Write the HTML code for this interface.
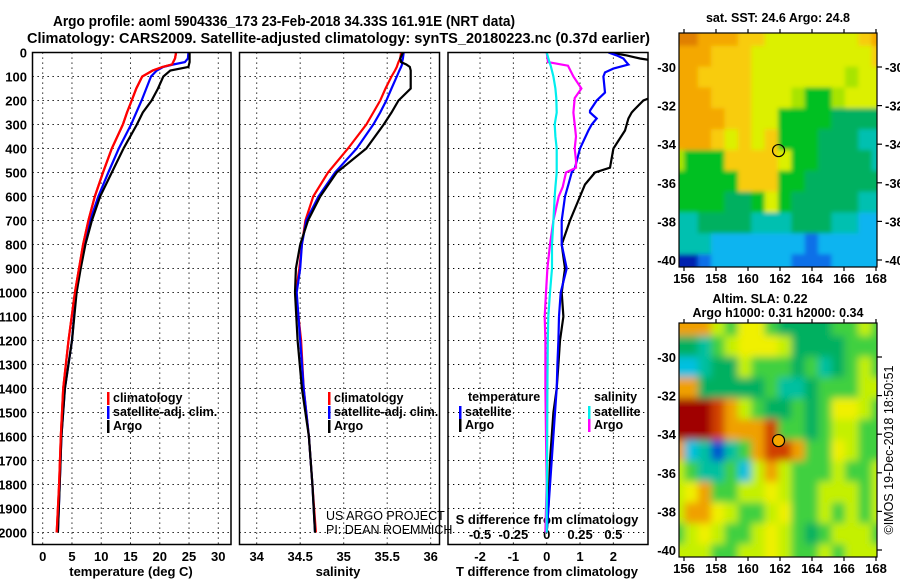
<!DOCTYPE html>
<html><head><meta charset="utf-8">
<style>
html,body{margin:0;padding:0;background:#fff;}
body{width:900px;height:580px;overflow:hidden;font-family:"Liberation Sans",Arial,sans-serif;}
svg text{font-family:"Liberation Sans",Arial,sans-serif;font-weight:bold;fill:#000;}
svg text.thin{font-weight:normal;}
</style></head>
<body>
<svg id="fig" width="900" height="580" viewBox="0 0 900 580" xmlns="http://www.w3.org/2000/svg">
<defs>
<clipPath id="c1"><rect x="32.5" y="52.5" width="198.5" height="492"/></clipPath>
<clipPath id="c2"><rect x="239.5" y="52.5" width="200" height="492"/></clipPath>
<clipPath id="c3"><rect x="448" y="52.5" width="200" height="492"/></clipPath>
<clipPath id="cm1"><rect x="679" y="33" width="198" height="234"/></clipPath>
<clipPath id="cm2"><rect x="679" y="323" width="198" height="234"/></clipPath>
<filter id="blur2" x="-5%" y="-5%" width="110%" height="110%"><feGaussianBlur stdDeviation="4"/></filter>
<filter id="blur1"><feGaussianBlur stdDeviation="2"/></filter>
</defs>
<text x="53" y="26" font-size="14.5" textLength="462" lengthAdjust="spacingAndGlyphs">Argo profile: aoml 5904336_173 23-Feb-2018 34.33S 161.91E (NRT data)</text>
<text x="27" y="43" font-size="14.5" textLength="623" lengthAdjust="spacingAndGlyphs">Climatology: CARS2009. Satellite-adjusted climatology: synTS_20180223.nc (0.37d earlier)</text>
<g id="layer"></g>
</svg>
<script>
// ---------- data ----------
var depths = [0,25,40,50,60,75,100,150,200,250,300,400,500,600,700,800,900,1000,1200,1400,1600,1800,2000];
var tempClim = [22.8,22.6,22.3,22.1,20.5,18.8,17.0,16.0,15.2,14.4,13.7,11.8,10.3,8.9,7.8,6.9,6.2,5.5,4.4,3.5,3.1,2.8,2.4];
var tempSat  = [24.9,24.8,24.3,22.3,20.6,19.5,18.5,17.7,16.9,16.0,15.1,13.0,11.2,9.5,8.1,7.2,6.4,5.7,5.0,3.8,3.2,2.9,2.6];
var tempArgo = [25.1,25.1,25.1,25.0,24.9,21.8,20.6,19.7,18.6,17.1,16.1,13.8,11.8,9.8,8.4,7.3,6.5,5.8,5.0,3.8,3.2,2.9,2.6];
var salClim = [35.66,35.65,35.63,35.62,35.61,35.59,35.55,35.48,35.42,35.34,35.26,35.05,34.82,34.65,34.56,34.52,34.49,34.45,34.51,34.54,34.60,34.64,34.68];
var salSat  = [35.69,35.68,35.67,35.67,35.66,35.64,35.61,35.55,35.49,35.42,35.34,35.15,34.90,34.71,34.57,34.52,34.50,34.46,34.50,34.54,34.60,34.64,34.67];
var salArgo = [35.68,35.65,35.66,35.72,35.76,35.77,35.77,35.77,35.63,35.55,35.46,35.26,34.92,34.73,34.59,34.50,34.45,34.44,34.47,34.52,34.60,34.64,34.67];
var dTdepths = [0,12,25,42,50,67,83,100,167,200,242,250,275,300,325,400,480,500,550,600,700,800,900,1000,1100,1200,1300,1400,1500,1700,1900,2000];
var dTArgo = [1.9,2.4,2.8,3.6,3.6,3.6,3.6,3.6,3.5,2.9,2.6,2.55,2.45,2.4,2.35,2.0,1.9,1.45,1.15,1.0,0.7,0.45,0.55,0.45,0.5,0.4,0.35,0.3,0.2,0.1,0.05,0.0];
var dTSat  = [1.85,2.1,2.3,2.4,2.45,2.0,1.75,1.7,1.75,1.5,1.3,1.3,1.5,1.35,1.25,1.0,0.85,0.75,0.65,0.55,0.45,0.45,0.6,0.42,0.37,0.35,0.32,0.3,0.25,0.15,0.05,0.0];
var dSdepths = [0,40,55,100,150,190,250,300,350,400,450,480,500,560,600,700,800,900,1000,1100,1200,1400,1600,1800,1900,2000];
var dSArgo = [0.0,0.01,0.16,0.2,0.26,0.21,0.2,0.21,0.22,0.21,0.22,0.22,0.145,0.12,0.09,0.05,0.025,0.005,-0.005,-0.015,-0.01,-0.01,-0.005,0.0,-0.005,-0.01];
var dSSat  = [0.0,0.02,0.03,0.05,0.065,0.072,0.075,0.06,0.065,0.075,0.075,0.075,0.075,0.065,0.06,0.05,0.04,0.04,0.025,0.012,0.008,0.005,0.004,0.002,0.0,0.0];
var depthTicks = [0,100,200,300,400,500,600,700,800,900,1000,1100,1200,1300,1400,1500,1600,1700,1800,1900,2000];
var tempTicks = [0,5,10,15,20,25,30];
var salTicks = [34,34.5,35,35.5,36];
var salTickLabels = ["34","34.5","35","35.5","36"];
var dTTicks = [-2,-1,0,1,2];
var dSTicks = [-0.5,-0.25,0,0.25,0.5];
var dSTickLabels = ["-0.5","-0.25","0","0.25","0.5"];
var latTicks = [-30,-32,-34,-36,-38,-40];
var lonTicks = [156,158,160,162,164,166,168];
// map color grids (rows N->S, cols W->E)
var sstGrid = [
"DDOOOYYyyyyyyyYO",
"OOOYYYyyyyyyyyyY",
"OOYYYYyyyyyyylyy",
"OOOYYYyyylGGlyyy",
"OOOOYYyyGGGGgggg",
"OOOYyYyYGGGgggcc",
"lGGGYYYYyGGggggc",
"GGGGGYYYGGgggggg",
"GGGGggGyGgggggcc",
"ccggggcccgggccCC",
"cccCCCCCCCBCCCCC",
"NNBCCCCCCBBBCCCC"];
var slaGrid = [
"oooyGYYGggggGGyG",
"ggtGyYYYyggggGGG",
"cctggyGGGgGtgGyG",
"oogggggGttgGGGyy",
"RRRroyGggGgGYYyG",
"RRRrooorGGgGyyGG",
"octbtGorroGGYyGG",
"yGttGcyoyGGGyGGy",
"yYoGGyyYyGGyyyGy",
"yooYyGGyYGGyGyGy",
"GyYyGGyYyGgGyyyG",
"yyyGGyyYyGGyGyyy"];
var sstColors = {D:"#e08000",O:"#f4a800",Y:"#f8cc10",y:"#dcf000",l:"#a8e400",G:"#00c020",g:"#00b060",c:"#00c0b0",C:"#10b4f0",B:"#1070e8",N:"#0020b0"};
var slaColors = {R:"#a00000",r:"#d04000",o:"#f0a000",Y:"#f0f000",y:"#c4f000",G:"#40d040",g:"#00b060",t:"#00c0a0",c:"#00c0e0",b:"#0050d0"};
var argoLon = 161.91, argoLat = -34.33;

// ---------- helpers ----------
var NS="http://www.w3.org/2000/svg";
var layer=document.getElementById('layer');
function mk(tag,attrs,parent){var e=document.createElementNS(NS,tag);for(var k in attrs)e.setAttribute(k,attrs[k]);(parent||layer).appendChild(e);return e;}
function yD(d){return 52.5+0.24*d;}
function xT(t){return 42.7+5.853*t;}
function xS(s){return 256.7+87*(s-34);}
function xdT(v){return 546.7+33.33*v;}
function xdS(v){return 546.7+133.33*v;}
function lon2x(lo){return 684+16*(lo-156);}
function lat2y(la,top){return top+34+19.3*(-30-la);}

function profile(xs,ys,fx,color,clip,name){
  var pts=[];for(var i=0;i<xs.length;i++){pts.push(fx(xs[i]).toFixed(1)+","+yD(ys[i]).toFixed(1));}
  var p=mk('polyline',{points:pts.join(" "),fill:"none",stroke:color,"stroke-width":"2.2","clip-path":"url(#"+clip+")"});
  
  
}
function txt(x,y,s,size,anchor,name,extra){
  var t=mk('text',{x:x,y:y,"font-size":size,"text-anchor":anchor||"start"});
  t.textContent=s;
  
  
  if(extra)for(var k in extra)t.setAttribute(k,extra[k]);
  return t;
}
function dotted(x1,y1,x2,y2){mk('line',{x1:x1,y1:y1,x2:x2,y2:y2,stroke:"#000","stroke-width":"1","stroke-dasharray":"1.3,3.7"});}

// ---------- profile panels ----------
var panels=[{x:32.5,w:198.5},{x:239.5,w:200},{x:448,w:200}];
panels.forEach(function(p,pi){
  depthTicks.forEach(function(d){ if(d>0) dotted(p.x,yD(d),p.x+p.w,yD(d)); });
});
tempTicks.forEach(function(t){ dotted(xT(t),52.5,xT(t),544.5); });
salTicks.forEach(function(s){ dotted(xS(s),52.5,xS(s),544.5); });
dTTicks.forEach(function(v){ dotted(xdT(v),52.5,xdT(v),544.5); });

depthTicks.forEach(function(d){ txt(27,yD(d)+5,String(d),13,"end","depth-tick-label"); });
tempTicks.forEach(function(t){ txt(xT(t),561,String(t),13,"middle","temperature-tick-label"); });
salTicks.forEach(function(s,i){ txt(xS(s),561,salTickLabels[i],13,"middle","salinity-tick-label"); });
dTTicks.forEach(function(v){ txt(xdT(v),561,String(v),13,"middle","t-diff-tick-label"); });
dSTicks.forEach(function(v,i){ txt(xdS(v),539,dSTickLabels[i],13,"middle","s-diff-tick-label"); });
txt(131,576,"temperature (deg C)",13,"middle","temperature-axis-title");
txt(338,576,"salinity",13,"middle","salinity-axis-title");
txt(547,576,"T difference from climatology",13,"middle","t-diff-axis-title");
txt(547,524,"S difference from climatology",13,"middle","s-diff-axis-title");

profile(tempClim,depths,xT,"#ff0000","c1","temperature-climatology-line");
profile(tempSat,depths,xT,"#0000ff","c1","temperature-satellite-line");
profile(tempArgo,depths,xT,"#000000","c1","temperature-argo-line");
profile(tempClim,depths,xT,"#ff0000","c1","temperature-climatology-line-top");
profile(salClim,depths,xS,"#ff0000","c2","salinity-climatology-line");
profile(salSat,depths,xS,"#0000ff","c2","salinity-satellite-line");
profile(salArgo,depths,xS,"#000000","c2","salinity-argo-line");
profile(dTArgo,dTdepths,xdT,"#000000","c3","t-diff-argo-line");
profile(dTSat,dTdepths,xdT,"#0000ff","c3","t-diff-satellite-line");
profile(dSArgo,dSdepths,xdS,"#ff00ff","c3","s-diff-argo-line");
profile(dSSat,dSdepths,xdS,"#00eeee","c3","s-diff-satellite-line");

panels.forEach(function(p,pi){
  var r=mk('rect',{x:p.x,y:52.5,width:p.w,height:492,fill:"none",stroke:"#000","stroke-width":"1.5"});
  
  
});

// legends
function legItem(x,y,color,label,name){
  var m=mk('rect',{x:x,y:y-10,width:2.5,height:13,fill:color});
  
  
  txt(x+6,y,label,12.5,"start",name);
}
legItem(107,402,"#ff0000","climatology","legend-climatology");
legItem(107,416,"#0000ff","satellite-adj. clim.","legend-satellite-adj");
legItem(107,430,"#000000","Argo","legend-argo");
legItem(328,402,"#ff0000","climatology","legend-climatology-sal");
legItem(328,416,"#0000ff","satellite-adj. clim.","legend-satellite-adj-sal");
legItem(328,430,"#000000","Argo","legend-argo-sal");
txt(468,401,"temperature",12.5,"start","legend-temperature-header");
legItem(459,416,"#0000ff","satellite","legend-t-satellite");
legItem(459,429,"#000000","Argo","legend-t-argo");
txt(594,401,"salinity",12.5,"start","legend-salinity-header");
legItem(588,416,"#00eeee","satellite","legend-s-satellite");
legItem(588,429,"#ff00ff","Argo","legend-s-argo");
txt(326,520,"US ARGO PROJECT",12.5,"start","credit-project",{"class":"thin"});
txt(326,534,"PI: DEAN ROEMMICH",12.5,"start","credit-pi",{"class":"thin"});

// ---------- maps ----------
function drawMap(grid,colors,top,clip,blur,name){
  var g=mk('g',{"clip-path":"url(#"+clip+")"});
  
  
  var inner=mk('g',blur?{filter:"url(#"+blur+")"}:{},g);
  var rows=grid.length, cols=grid[0].length;
  var x0=671,x1=885,y0=top-8,y1=top+242;
  var cw=(x1-x0)/cols, ch=(y1-y0)/rows;
  for(var r=0;r<rows;r++)for(var c=0;c<cols;c++){
    var cell=mk('rect',{x:(x0+c*cw).toFixed(1),y:(y0+r*ch).toFixed(1),width:(cw+0.6).toFixed(1),height:(ch+0.6).toFixed(1),fill:colors[grid[r][c]]},inner);
    
    
  }
}
drawMap(sstGrid,sstColors,33,"cm1","blur1","sst-map");
drawMap(slaGrid,slaColors,323,"cm2","blur2","sla-map");

[33,323].forEach(function(top,mi){
  var f=mk('rect',{x:679,y:top,width:198,height:234,fill:"none",stroke:"#000","stroke-width":"1.2"});
  
  
  latTicks.forEach(function(la){
    var y=lat2y(la,top);
    mk('line',{x1:877,y1:y,x2:882,y2:y,stroke:"#000","stroke-width":"1.2"});
    txt(676,y+5,String(la),13,"end","latitude-tick-label-left");
    if(mi===0) txt(885,y+5,String(la),13,"start","latitude-tick-label");
  });
  lonTicks.forEach(function(lo){
    var x=lon2x(lo);
    mk('line',{x1:x,y1:top,x2:x,y2:top-4,stroke:"#000","stroke-width":"1.2"});
    mk('line',{x1:x,y1:top+234,x2:x,y2:top+238,stroke:"#000","stroke-width":"1.2"});
    txt(x,top+250,String(lo),13,"middle","longitude-tick-label");
  });
  var m=mk('circle',{cx:lon2x(argoLon),cy:lat2y(argoLat,top),r:6,fill:mi?"#f4a800":"none",stroke:"#000","stroke-width":"1.2"});
  
  
});
txt(778,22,"sat. SST: 24.6 Argo: 24.8",12.5,"middle","sst-map-title");
txt(760,303,"Altim. SLA: 0.22",12.5,"middle","sla-map-title");
txt(778,317,"Argo h1000: 0.31 h2000: 0.34",12.5,"middle","sla-map-subtitle");
txt(0,0,"©IMOS 19-Dec-2018 18:50:51",12.5,"middle","timestamp",{"class":"thin",transform:"translate(893,450) rotate(-90)"});
</script>
</body></html>
